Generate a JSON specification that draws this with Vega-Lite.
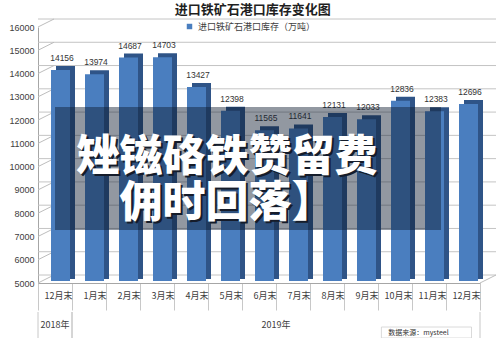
{
  "$schema": "https://vega.github.io/schema/vega-lite/v6.json",
  "background": "white",
  "autosize": {"type": "pad"},
  "padding": {"left": 8, "top": 3, "right": 0, "bottom": 0},
  "title": {
    "text": "进口铁矿石港口库存变化图",
    "fontSize": 13,
    "fontWeight": "bold",
    "color": "#1f1f1f",
    "anchor": "middle",
    "offset": 2
  },
  "datasets": {
    "stock": [
      {"月份": "2018年12月末", "库存": 14156},
      {"月份": "2019年1月末", "库存": 13974},
      {"月份": "2019年2月末", "库存": 14687},
      {"月份": "2019年3月末", "库存": 14703},
      {"月份": "2019年4月末", "库存": 13427},
      {"月份": "2019年5月末", "库存": 12398},
      {"月份": "2019年6月末", "库存": 11565},
      {"月份": "2019年7月末", "库存": 11641},
      {"月份": "2019年8月末", "库存": 12131},
      {"月份": "2019年9月末", "库存": 12033},
      {"月份": "2019年10月末", "库存": 12836},
      {"月份": "2019年11月末", "库存": 12383},
      {"月份": "2019年12月末", "库存": 12696}
    ],
    "grid": [
      {"v": 5000}, {"v": 6000}, {"v": 7000}, {"v": 8000}, {"v": 9000}, {"v": 10000},
      {"v": 11000}, {"v": 12000}, {"v": 13000}, {"v": 14000}, {"v": 15000}, {"v": 16000}
    ],
    "years": [
      {"年份": "2018年", "月数": 1},
      {"年份": "2019年", "月数": 12}
    ]
  },
  "spacing": 0,
  "vconcat": [
    {
      "width": 442,
      "height": 256,
      "layer": [
        {
          "data": {"name": "grid"},
          "mark": {"type": "rule", "color": "#C4C4C4", "xOffset": 16, "x2Offset": 16, "yOffset": -8},
          "encoding": {
            "y": {
              "field": "v",
              "type": "quantitative",
              "scale": {"domain": [5000, 16000], "nice": false, "zero": false},
              "axis": {
                "values": [5000, 6000, 7000, 8000, 9000, 10000, 11000, 12000, 13000, 14000, 15000, 16000],
                "tickCount": 12,
                "format": "d",
                "labelOverlap": false,
                "title": null,
                "grid": false,
                "ticks": false,
                "labelFont": "Liberation Sans",
                "labelFontSize": 9,
                "labelColor": "#404040",
                "labelPadding": 4,
                "domainColor": "#A6A6A6"
              }
            }
          }
        },
        {
          "data": {"name": "grid"},
          "mark": {"type": "rule", "color": "#BDBDBD", "xOffset": -17, "x2Offset": -1, "y2Offset": -8},
          "encoding": {
            "x": {"datum": "2018年12月末", "type": "nominal"},
            "x2": {"datum": "2018年12月末"},
            "y": {
              "field": "v",
              "type": "quantitative",
              "axis": {
                "values": [5000, 6000, 7000, 8000, 9000, 10000, 11000, 12000, 13000, 14000, 15000, 16000],
                "tickCount": 12,
                "format": "d",
                "labelOverlap": false,
                "title": null,
                "grid": false,
                "ticks": false,
                "labelFont": "Liberation Sans",
                "labelFontSize": 9,
                "labelColor": "#404040",
                "labelPadding": 4,
                "domainColor": "#A6A6A6"
              }
            },
            "y2": {"field": "v"}
          }
        },
        {
          "data": {"name": "stock"},
          "mark": {"type": "bar", "width": 19, "xOffset": 10.5, "yOffset": -4, "y2Offset": -4, "color": "#2F5487"},
          "encoding": {
            "x": {
              "field": "月份",
              "type": "nominal",
              "sort": null,
              "scale": {"paddingInner": 0, "paddingOuter": 0},
              "axis": {
                "title": null,
                "labelAngle": 0,
                "labelExpr": "substring(datum.label, 5)",
                "labelFontSize": 9,
                "labelColor": "#404040",
                "labelPadding": -15,
                "labelOffset": 17,
                "labelOverlap": false,
                "tickBand": "extent",
                "tickSize": 27,
                "tickColor": "#C8C8C8",
                "domainColor": "#A6A6A6"
              }
            },
            "y": {
              "field": "库存",
              "type": "quantitative",
              "axis": {
                "values": [5000, 6000, 7000, 8000, 9000, 10000, 11000, 12000, 13000, 14000, 15000, 16000],
                "tickCount": 12,
                "format": "d",
                "labelOverlap": false,
                "title": null,
                "grid": false,
                "ticks": false,
                "labelFont": "Liberation Sans",
                "labelFontSize": 9,
                "labelColor": "#404040",
                "labelPadding": 4,
                "domainColor": "#A6A6A6"
              }
            },
            "y2": {"datum": 5000}
          }
        },
        {
          "data": {"name": "stock"},
          "mark": {"type": "bar", "width": 19, "xOffset": 5.5, "y2Offset": -2},
          "encoding": {
            "x": {"field": "月份", "type": "nominal", "sort": null},
            "y": {
              "field": "库存",
              "type": "quantitative",
              "axis": {
                "values": [5000, 6000, 7000, 8000, 9000, 10000, 11000, 12000, 13000, 14000, 15000, 16000],
                "tickCount": 12,
                "format": "d",
                "labelOverlap": false,
                "title": null,
                "grid": false,
                "ticks": false,
                "labelFont": "Liberation Sans",
                "labelFontSize": 9,
                "labelColor": "#404040",
                "labelPadding": 4,
                "domainColor": "#A6A6A6"
              }
            },
            "y2": {"datum": 5000},
            "color": {
              "datum": "进口铁矿石港口库存（万吨）",
              "scale": {"range": ["#4A7EBF"]},
              "legend": {
                "orient": "none",
                "legendX": 147,
                "legendY": -5,
                "title": null,
                "symbolType": "square",
                "symbolSize": 30,
                "labelFontSize": 9,
                "labelColor": "#404040"
              }
            }
          }
        },
        {
          "data": {"values": [{}]},
          "mark": {"type": "rule", "color": "#BDBDBD", "xOffset": 17, "x2Offset": 33, "y2Offset": -8},
          "encoding": {
            "x": {"datum": "2019年12月末", "type": "nominal"},
            "x2": {"datum": "2019年12月末"},
            "y": {"datum": 5000, "type": "quantitative"},
            "y2": {"datum": 5000}
          }
        },
        {
          "data": {"name": "stock"},
          "mark": {"type": "text", "dx": 7, "dy": -12, "fontSize": 8.5, "font": "Liberation Sans", "color": "#333333"},
          "encoding": {
            "x": {"field": "月份", "type": "nominal", "sort": null},
            "y": {"field": "库存", "type": "quantitative"},
            "text": {"field": "库存", "type": "quantitative", "format": "d"}
          }
        },
        {
          "data": {"values": [{}]},
          "mark": {"type": "rect", "color": "#0d1a2e", "opacity": 0.45, "x2Offset": 12},
          "encoding": {
            "x": {"datum": "2018年12月末", "type": "nominal"},
            "x2": {"datum": "2019年11月末"},
            "y": {"datum": 12560, "type": "quantitative"},
            "y2": {"datum": 7280}
          }
        },
        {
          "data": {"values": [{}]},
          "mark": {"type": "text", "fontSize": 43, "fontWeight": 900, "color": "#151c2a", "lineHeight": 46, "align": "center", "baseline": "middle", "dx": 4, "dy": 2},
          "encoding": {
            "x": {"datum": "2019年5月末", "type": "nominal"},
            "y": {"datum": 10370, "type": "quantitative"},
            "text": {"value": ["矬镃硌铁赞留费", "佣时回落】"]}
          }
        },
        {
          "data": {"values": [{}]},
          "mark": {"type": "text", "fontSize": 43, "fontWeight": 900, "color": "#ffffff", "lineHeight": 46, "align": "center", "baseline": "middle", "dx": 2},
          "encoding": {
            "x": {"datum": "2019年5月末", "type": "nominal"},
            "y": {"datum": 10370, "type": "quantitative"},
            "text": {"value": ["矬镃硌铁赞留费", "佣时回落】"]}
          }
        }
      ]
    },
    {
      "width": 442,
      "height": 28,
      "data": {"name": "years"},
      "transform": [
        {"stack": "月数", "groupby": [], "sort": [{"field": "年份"}], "as": ["起", "止"]},
        {"calculate": "(datum['起'] + datum['止']) / 2", "as": "中"}
      ],
      "layer": [
        {
          "mark": {"type": "rule", "color": "#C8C8C8"},
          "encoding": {
            "x": {"field": "起", "type": "quantitative", "scale": {"domain": [0, 13], "nice": false, "zero": false}, "axis": null}
          }
        },
        {
          "mark": {"type": "rule", "color": "#C8C8C8"},
          "encoding": {
            "x": {"field": "止", "type": "quantitative"}
          }
        },
        {
          "mark": {"type": "text", "fontSize": 9, "color": "#404040", "baseline": "middle"},
          "encoding": {
            "x": {"field": "中", "type": "quantitative"},
            "y": {"datum": 15, "type": "quantitative", "scale": {"domain": [0, 28]}, "axis": null},
            "text": {"field": "年份"}
          }
        },
        {
          "data": {"values": [{"来源": "数据来源：mysteel"}]},
          "mark": {"type": "rect", "fill": "white", "stroke": "#D0D0D0", "strokeWidth": 0.8},
          "encoding": {
            "x": {"datum": 10.1, "type": "quantitative"},
            "x2": {"datum": 12.75},
            "y": {"datum": 13, "type": "quantitative"},
            "y2": {"datum": 2}
          }
        },
        {
          "data": {"values": [{"来源": "数据来源：mysteel"}]},
          "mark": {"type": "text", "fontSize": 7, "color": "#333333", "align": "left", "baseline": "middle"},
          "encoding": {
            "x": {"datum": 10.3, "type": "quantitative"},
            "y": {"datum": 7.5, "type": "quantitative"},
            "text": {"field": "来源"}
          }
        }
      ]
    }
  ],
  "config": {
    "font": "Noto Sans CJK SC",
    "view": {"stroke": null},
    "axisY": {"labelOverlap": false}
  }
}
